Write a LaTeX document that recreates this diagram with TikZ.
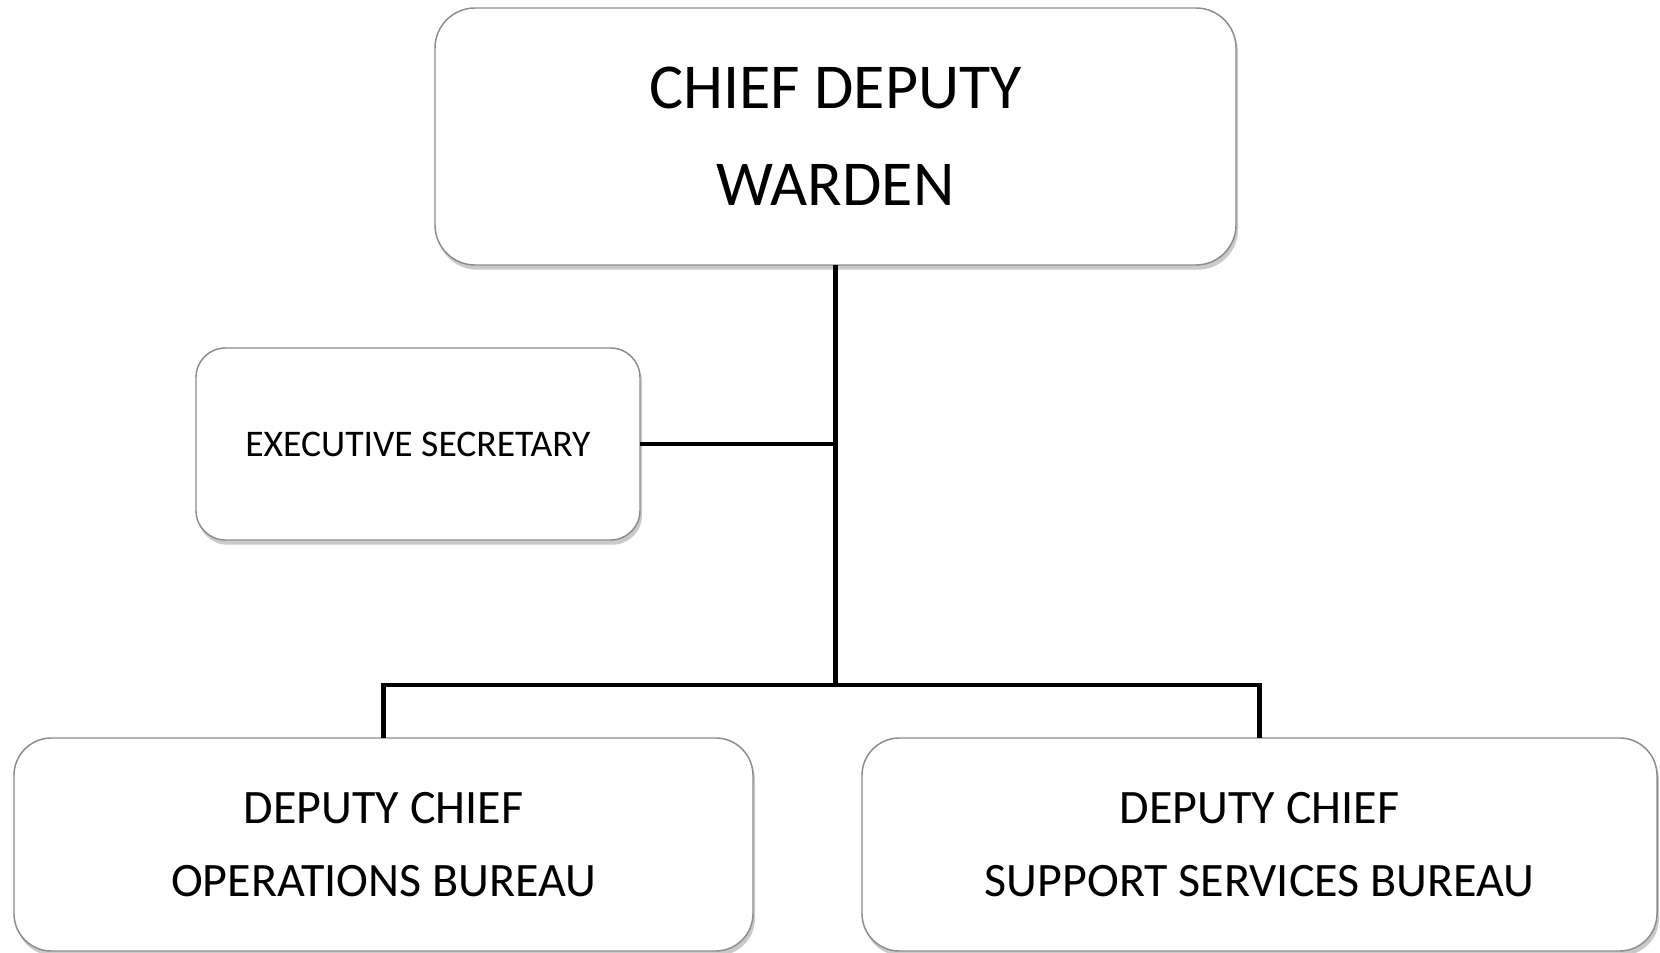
\documentclass[tikz,border=0pt]{standalone}
\usepackage{fontspec}
\setmainfont{Carlito}
\usetikzlibrary{shadows}
\tikzset{
  orgbox/.style={draw=black!45, line width=1.1pt, fill=white, rounded corners=#1,
    inner sep=0pt, outer sep=0pt, align=center, text=black,
    drop shadow={shadow xshift=1.5pt, shadow yshift=-3.5pt, opacity=0.35, fill=black!60}},
  link/.style={draw=black, line width=3.2pt, line join=miter}
}
\begin{document}
\begin{tikzpicture}[x=0.75pt, y=-0.75pt]
\useasboundingbox (0,0) rectangle (1660,953);
\node[orgbox=30pt, minimum width=600.75pt, minimum height=192.75pt,
  font=\fontsize{48}{72.75}\selectfont] (top) at (835.5,136.5) {CHIEF DEPUTY\\WARDEN};
\node[orgbox=22pt, minimum width=333pt, minimum height=144pt,
  font=\fontsize{28.2}{33}\selectfont] (exec) at (418,444) {EXECUTIVE SECRETARY};
\node[orgbox=28pt, minimum width=554.25pt, minimum height=159.75pt,
  font=\fontsize{36}{55}\selectfont] (opl) at (383.5,844.5) {DEPUTY CHIEF\\OPERATIONS BUREAU};
\node[orgbox=28pt, minimum width=596.25pt, minimum height=159.75pt,
  font=\fontsize{36}{55}\selectfont] (sup) at (1259.5,844.5) {DEPUTY CHIEF\\SUPPORT SERVICES BUREAU};
\coordinate (jn) at (835.5,685);
\draw[link] (top.south) -- (jn);
\draw[link] (exec.east) -- (exec.east -| top.south);
\draw[link] (opl.north) |- (jn) -| (sup.north);
\end{tikzpicture}
\end{document}
